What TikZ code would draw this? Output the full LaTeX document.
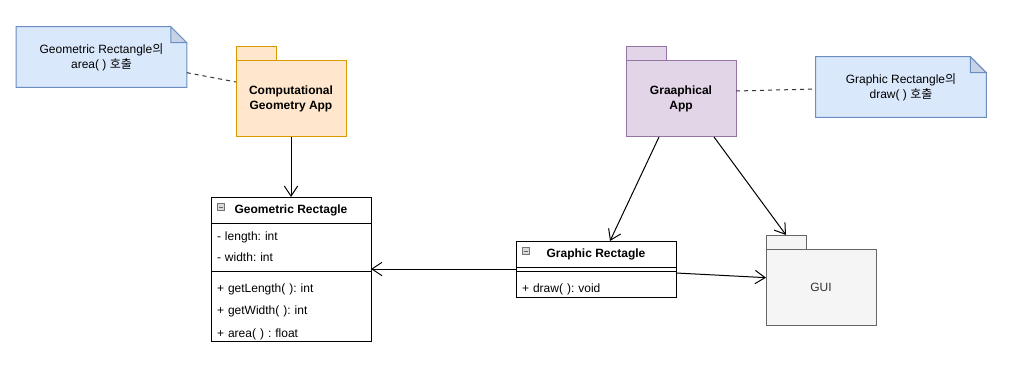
\documentclass[tikz,border=0pt]{standalone}
\usepackage{fontspec}
\setmainfont{Liberation Sans}
\newfontfamily\krfont{Noto Sans CJK KR}
\usepackage{tikz}
\usetikzlibrary{positioning, arrows.meta, backgrounds}
\definecolor{cgfill}{HTML}{FFE6CC}
\definecolor{cgline}{HTML}{D79B00}
\definecolor{gafill}{HTML}{E1D5E7}
\definecolor{galine}{HTML}{9673A6}
\definecolor{notefill}{HTML}{DAE8FC}
\definecolor{noteline}{HTML}{6C8EBF}
\definecolor{notefold}{HTML}{C6D3E6}
\definecolor{guifill}{HTML}{F5F5F5}
\definecolor{guiline}{HTML}{666666}
\frenchspacing

\begin{document}
\begin{tikzpicture}[
      x=0.75pt, y=-0.75pt,
      every node/.style={font=\fontsize{9}{11}\selectfont, inner sep=0pt},
      pkg/.style={draw, line width=0.75pt, outer sep=0pt, minimum width=82.5pt, minimum height=57pt, align=center, font=\fontsize{9}{11}\selectfont\bfseries},
      pkgtab/.style={draw, line width=0.75pt, minimum width=30pt, minimum height=10.5pt, outer sep=0pt, anchor=south west},
      note/.style={minimum width=127.5pt, minimum height=45pt, align=center},
      cls/.style={draw, line width=0.75pt, outer sep=0pt, minimum width=120pt, minimum height=19.5pt, font=\fontsize{9}{11}\selectfont\bfseries},
      comp/.style={draw, line width=0.75pt, outer sep=0pt, minimum width=120pt, text width=111pt, align=left, anchor=north},
      icon/.style={draw=black!55, fill=black!15, minimum size=5.25pt, line width=0.5pt, anchor=north west},
      arr/.style={-{Straight Barb[length=7.5pt, width=10pt]}, line width=0.75pt},
      dep/.style={dash pattern=on 3pt off 3pt, line width=0.75pt, black!80},
  ]
    \useasboundingbox (0,0) rectangle (1016,381);

    % packages
    \node[pkg, fill=cgfill, draw=cgline] (cg) at (291,99) {Computational\\Geometry App};
    \node[pkgtab, fill=cgfill, draw=cgline] (cgtab) at (cg.north west) {};
    \node[pkg, fill=gafill, draw=galine] (ga) at (681,99) {Graaphical\\App};
    \node[pkgtab, fill=gafill, draw=galine] (gatab) at (ga.north west) {};
    \node[pkg, fill=guifill, draw=guiline, font=\fontsize{9}{11}\selectfont, text=black!80] (gui) at (821,287) {GUI};
    \node[pkgtab, fill=guifill, draw=guiline] (guitab) at (gui.north west) {};

    % notes
    \node[note] (n1) at (101.5,57) {Geometric Rectangle{\krfont 의}\\area( ) {\krfont 호출}};
    \node[note] (n2) at (901,87) {Graphic Rectangle{\krfont 의}\\draw( ) {\krfont 호출}};
    \begin{scope}[on background layer]
      \foreach \n in {n1,n2}{
        \filldraw[fill=notefill, draw=noteline, line width=0.75pt] (\n.south west) -- (\n.north west) -- ([xshift=-12pt]\n.north east) -- ([yshift=-12pt]\n.north east) -- (\n.south east) -- cycle;
        \filldraw[fill=notefold, draw=noteline, line width=0.75pt] ([xshift=-12pt]\n.north east) -- ([xshift=-12pt, yshift=-12pt]\n.north east) -- ([yshift=-12pt]\n.north east) -- cycle;
      }
    \end{scope}

    % classes
    \node[cls] (geo) at (291,210) {Geometric Rectagle};
    \node[comp, minimum height=36pt, font=\fontsize{9}{15.75}\selectfont] (geoattr) at (geo.south) {- length: int\\- width: int};
    \node[comp, minimum height=52.5pt, font=\fontsize{9}{16.9}\selectfont] (geoop) at (geoattr.south) {\rule{0pt}{15pt}+ getLength( ): int\\+ getWidth( ): int\\+ area( ) : float};
    \node[icon] (geoicon) at ([xshift=4.5pt, yshift=-4.5pt]geo.north west) {};
    \draw[black!60, line width=0.5pt] ([xshift=1.2pt]geoicon.west) -- ([xshift=-1.2pt]geoicon.east);

    \node[cls] (gr) at (596,254) {Graphic Rectagle};
    \node[comp, minimum height=3pt] (grsep) at (gr.south) {};
    \node[comp, minimum height=19.5pt] (grop) at (grsep.south) {\rule{0pt}{15pt}+ draw( ): void};
    \node[icon] (gricon) at ([xshift=4.5pt, yshift=-4.5pt]gr.north west) {};
    \draw[black!60, line width=0.5pt] ([xshift=1.2pt]gricon.west) -- ([xshift=-1.2pt]gricon.east);

    % connectors
    \draw[arr] (cg.south) -- (geo.north);
    \draw[arr] ([xshift=-16.5pt]ga.south) -- ([xshift=10.5pt]gr.north);
    \draw[arr] ([xshift=24.75pt]ga.south) -- (guitab.north);
    \draw[arr] (grsep.west) -- (grsep.west -| geo.east);
    \draw[arr] ([yshift=-1.5pt]grop.north east) -- ([yshift=7pt]gui.west);

    \draw[dep] ([yshift=-11.75pt]n1.east) -- ([yshift=12.75pt]cg.west);
    \draw[dep] ([yshift=6pt]ga.east) -- ([yshift=-1.5pt]n2.west);
  \end{tikzpicture}
\end{document}
